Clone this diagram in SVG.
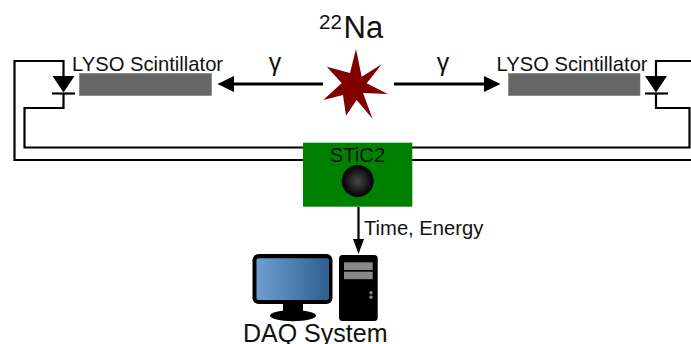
<svg xmlns="http://www.w3.org/2000/svg" width="691" height="344" viewBox="0 0 691 344">
<style>
text{font-family:"Liberation Sans",Arial,sans-serif;fill:#111}
.w{fill:none;stroke:#000;stroke-width:2.200}
.a{fill:none;stroke:#000;stroke-width:3}
.t{font-size:20.200px}
.h{fill:#000}
.bar{fill:#666;stroke:#777;stroke-width:.6}
.d{fill:#888}
</style>
<defs>
<linearGradient id="scr" x1="0" y1="0" x2="1" y2="0"><stop offset="0" stop-color="#6f9fd2"/><stop offset="1" stop-color="#2f5f90"/></linearGradient>
<radialGradient id="ball"><stop offset="0" stop-color="#484848"/><stop offset="1" stop-color="#000"/></radialGradient>
</defs>
<rect width="691" height="344" fill="#fff"/>
<g id="connectors">
<path class="w" d="M63.500 76V61H14.500V160H303M412 160H691"/>
<path class="w" d="M63.500 93V108H24.500V147.500H303M412 147.500H689.500V108H656V93"/>
<path class="w" d="M656 76V61H691"/>
<path class="a" d="M323 84H232"/><path class="h" d="M217.500 84L234 76V92Z"/>
<path class="a" d="M394 84H486"/><path class="h" d="M500.500 84L484 76V92Z"/>
<path class="w" d="M358.500 207V240"/><path class="h" d="M358.500 254L353 239H364Z"/>
</g>
<g id="source">
<text x="319" y="29" font-size="20.500">22</text>
<text x="343.500" y="38" font-size="31">Na</text>
<polygon fill="#800000" points="356,49 361.700,76.700 381.700,64.300 366.700,83.300 387.700,94 363,93 372.700,119 356.700,100 346,115.700 343,95 323.300,100 341.700,83 326.700,66.700 350,73"/>
</g>
<g id="gamma-left"><text x="275" y="71" font-size="25" text-anchor="middle">γ</text></g>
<g id="gamma-right"><text x="443" y="71" font-size="25" text-anchor="middle">γ</text></g>
<g id="lyso-left">
<text class="t" x="72" y="70.500">LYSO Scintillator</text>
<rect class="bar" x="79.500" y="73.500" width="132" height="22"/>
</g>
<g id="lyso-right">
<text class="t" x="496.500" y="70.500">LYSO Scintillator</text>
<rect class="bar" x="508.500" y="73.500" width="131.500" height="22"/>
</g>
<g id="diode-left">
<path class="h" d="M52.500 76H74.500L63.500 92.500Z"/><path class="w" d="M52 93.500H75"/>
</g>
<g id="diode-right">
<path class="h" d="M645 76H667L656 92.500Z"/><path class="w" d="M645 93.500H668"/>
</g>
<g id="stic2">
<rect x="303" y="142.700" width="109.300" height="64" fill="#008000"/>
<text class="t" x="357.500" y="161.500" text-anchor="middle">STiC2</text>
<circle cx="357.700" cy="181" r="16" fill="url(#ball)"/>
</g>
<g id="label-time"><text class="t" x="364" y="235">Time, Energy</text></g>
<g id="daq">
<rect x="252.500" y="254" width="80" height="50" rx="6" fill="#000"/>
<rect x="256.500" y="258.300" width="72.500" height="41.700" rx="2" fill="url(#scr)"/>
<rect x="283" y="303" width="20" height="10" fill="#000"/>
<ellipse cx="293" cy="315.700" rx="23" ry="5.500" fill="#000"/>
<rect x="339" y="255" width="38.700" height="66" rx="3.500" fill="#000"/>
<rect class="d" x="344" y="262.300" width="28.700" height="7.700"/>
<rect class="d" x="344" y="271.700" width="28.700" height="7.500"/>
<circle class="d" cx="371" cy="292.700" r="1.700"/>
<circle class="d" cx="371" cy="297.300" r="1.700"/>
<text x="243" y="341.700" font-size="25">DAQ System</text>
</g>
</svg>
